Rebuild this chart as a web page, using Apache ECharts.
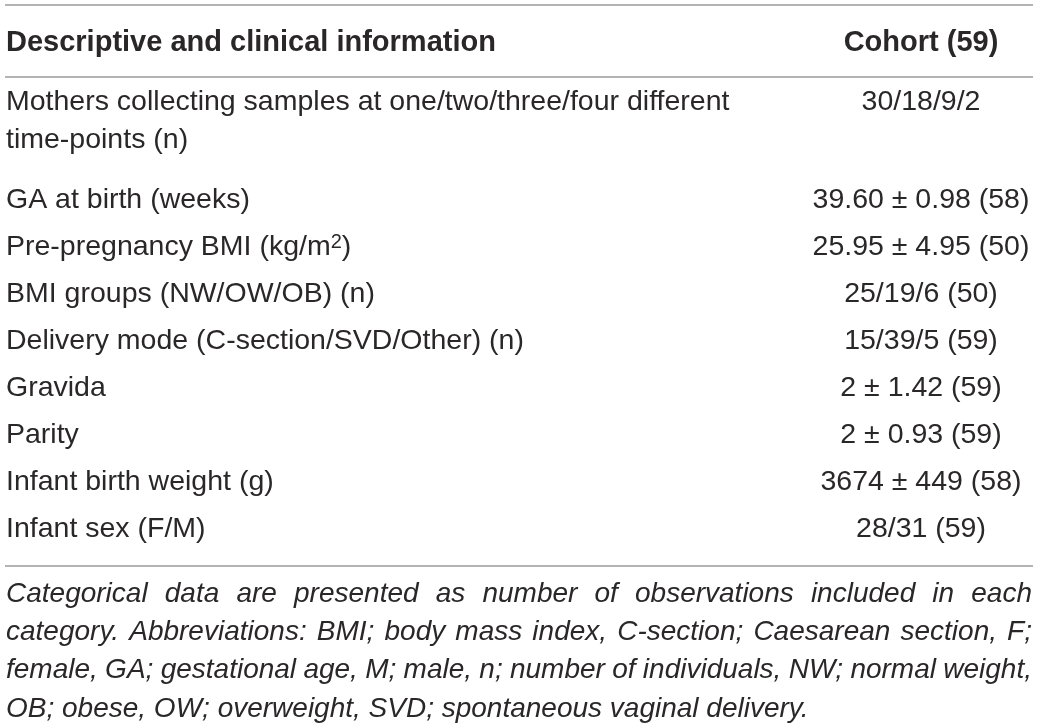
<!DOCTYPE html>
<html>
<head>
<meta charset="utf-8">
<script src="https://cdn.jsdelivr.net/npm/echarts@6/dist/echarts.min.js"></script>
<style>
html, body { margin: 0; padding: 0; background: #fff; }
#main { width: 1039px; height: 727px; }
</style>
</head>
<body>
<div id="main"></div>
<script>
/********** table content ********** */
var headerCells = ["Descriptive and clinical information", "Cohort (59)"];

var rowLabels = [
    ["Mothers collecting samples at one/two/three/four different", "time-points (n)"],
    ["GA at birth (weeks)"],
    ["Pre-pregnancy BMI (kg/m{sup|2})"],
    ["BMI groups (NW/OW/OB) (n)"],
    ["Delivery mode (C-section/SVD/Other) (n)"],
    ["Gravida"],
    ["Parity"],
    ["Infant birth weight (g)"],
    ["Infant sex (F/M)"]
];

var rowValues = [
    "30/18/9/2",
    "39.60 \u00b1 0.98 (58)",
    "25.95 \u00b1 4.95 (50)",
    "25/19/6 (50)",
    "15/39/5 (59)",
    "2 \u00b1 1.42 (59)",
    "2 \u00b1 0.93 (59)",
    "3674 \u00b1 449 (58)",
    "28/31 (59)"
];

var footLines = [
    "Categorical data are presented as number of observations included in each",
    "category. Abbreviations: BMI; body mass index, C-section; Caesarean section, F;",
    "female, GA; gestational age, M; male, n; number of individuals, NW; normal weight,",
    "OB; obese, OW; overweight, SVD; spontaneous vaginal delivery."
];


/********** layout ********** */
var FONT = '"Liberation Sans", Arial, Helvetica, sans-serif';
var INK = "#2a2728";
var RULE = "#9a9a9a";
var SIZE = 28.5;      // body cells
var HEAD_SIZE = 29;   // bold header
var FOOT_SIZE = 28;   // italic footnote
var LEFT = 6, RIGHT = 1032, VAL_X = 921;

var ctx = document.createElement("canvas").getContext("2d");
function textWidth(str, font){
    ctx.font = font;
    return ctx.measureText(str).width;
}

function txt(x, y, str, opt){
    opt = opt || {};
    var style = {
        text : str,
        fontFamily : FONT,
        fontSize : opt.fontSize || SIZE,
        fontWeight : opt.fontWeight || "normal",
        fontStyle : opt.fontStyle || "normal",
        fill : INK,
        textAlign : opt.align || "left",
        textVerticalAlign : "middle"
    };
    if(opt.rich) style.rich = opt.rich;
    return { type : "text", x : x, y : y, silent : true, style : style };
}

function rule(y){
    return {
        type : "line",
        silent : true,
        shape : { x1 : 5, y1 : y, x2 : 1033, y2 : y },
        style : { stroke : RULE, lineWidth : 1.5 }
    };
}

var elements = [];

// rules
elements.push(rule(5));
elements.push(rule(77));
elements.push(rule(566));

// header
elements.push(txt(LEFT, 43, headerCells[0], { fontWeight : "bold", fontSize : HEAD_SIZE }));
elements.push(txt(VAL_X, 43, headerCells[1], { fontWeight : "bold", fontSize : HEAD_SIZE, align : "center" }));

// body rows
var supRich = {
    sup : { fontSize : 20, fontFamily : FONT, fill : INK, verticalAlign : "top" }
};
var y = 102;
rowLabels.forEach(function(lines, i){
    lines.forEach(function(line, k){
        elements.push(txt(LEFT, y + k * 38, line, { rich : supRich }));
    });
    elements.push(txt(VAL_X, y, rowValues[i], { align : "center" }));
    y += (lines.length - 1) * (38 + 13) + 47;
});

// footnote, justified except the last line
var footFont = "italic " + FOOT_SIZE + "px " + FONT;
footLines.forEach(function(line, i){
    var fy = 594 + i * 38.3;
    if(i == footLines.length - 1){
        elements.push(txt(LEFT, fy, line, { fontStyle : "italic", fontSize : FOOT_SIZE }));
        return;
    }
    var words = line.split(" ");
    var widths = words.map(function(w){ return textWidth(w, footFont); });
    var total = widths.reduce(function(a, b){ return a + b; }, 0);
    var gap = (RIGHT - LEFT - total) / (words.length - 1);
    var x = LEFT;
    words.forEach(function(w, j){
        elements.push(txt(x, fy, w, { fontStyle : "italic", fontSize : FOOT_SIZE }));
        x += widths[j] + gap;
    });
});

var myChart = echarts.init(document.getElementById("main"), null, { renderer : "canvas" });
myChart.setOption({
    backgroundColor : "#fff",
    animation : false,
    graphic : { elements : elements }
});
</script>
</body>
</html>
